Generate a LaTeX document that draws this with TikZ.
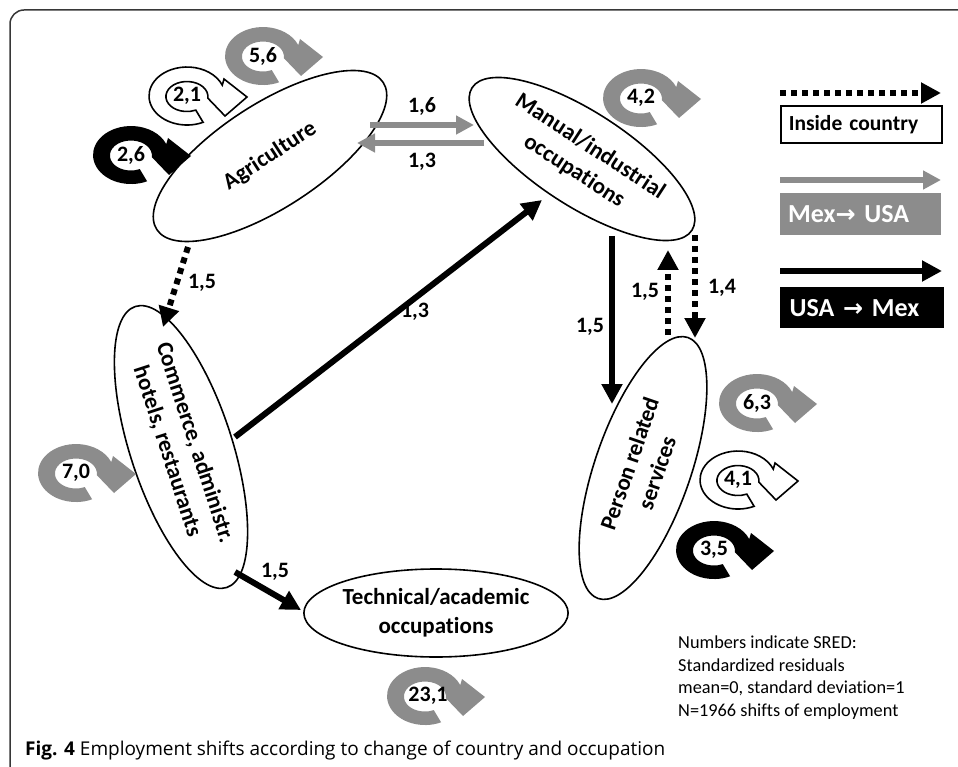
\documentclass[tikz,border=0pt]{standalone}
\usepackage{fontspec}
\setmainfont{Carlito}[Ligatures=CommonOff]
\newfontfamily\capfont{Open Sans}
\newfontfamily\symfont{DejaVu Sans}
\usetikzlibrary{shapes.geometric,arrows.meta}
\definecolor{gA}{RGB}{140,140,140}
\definecolor{frameC}{RGB}{55,55,55}
\tikzset{
  loopicon/.pic={
    \path[pic actions] (16.1,-26.3) arc[start angle=-65, end angle=-338, x radius=38, y radius=29]
      -- (37,17) -- (60,-1) -- (38,-20) -- (20.8,-2.1)
      arc[start angle=-6, end angle=295, x radius=21, y radius=15]
      -- cycle;
  }
}
\begin{document}
\begin{tikzpicture}[x=1pt,y=1pt,
  occ/.style={draw,line width=1.6pt,ellipse,inner sep=0pt,align=center,
    font=\fontsize{23}{29}\selectfont\bfseries},
  lbl/.style={font=\fontsize{22}{26}\selectfont\bfseries,inner sep=0pt},
  grayarr/.style={draw=gA,line width=6pt,-{Triangle[length=18pt,width=18pt]}},
  blackarr/.style={draw=black,line width=6pt,-{Triangle[length=20pt,width=20pt]}},
  dotarr/.style={draw=black,line width=6pt,dash pattern=on 6pt off 5pt,-{Triangle[length=20pt,width=20pt]}},
  graylp/.style={fill=gA},
  blacklp/.style={fill=black},
  whitelp/.style={fill=white,draw=black,line width=1.6pt,line join=miter},
  legbox/.style={inner sep=0pt,minimum width=160pt,minimum height=40pt,anchor=north west,
    text width=145pt,align=left,inner xsep=8pt}
]
\useasboundingbox (0,0) rectangle (958,-767);
% frame
\draw[frameC,line width=1.5pt] (10,-767) -- (10,-24) arc[start angle=180,end angle=90,radius=14] -- (958,-10);

% occupation ellipses
\node[occ,minimum width=270pt,minimum height=104pt,rotate=33] (agri) at (270,-156) {Agriculture};
\node[occ,minimum width=262pt,minimum height=94pt,rotate=-33] (manual) at (582,-159) {Manual/industrial\\occupations};
\node[occ,minimum width=266pt,minimum height=102pt,rotate=-72] (comm) at (181,-447) {Commerce, administr.\\hotels, restaurants};
\node[occ,minimum width=276pt,minimum height=96pt,rotate=71] (person) at (643,-468) {Person related\\services};
\node[occ,minimum width=260pt,minimum height=88pt] (tech) at (436,-613) {Technical/academic\\occupations};

% connector end points
\coordinate (g16a) at (370,-125);
\coordinate (g16b) at (474,-125);
\coordinate (g13a) at (484,-143);
\coordinate (g13b) at (357,-143);
\coordinate (dAa) at (188,-247);
\coordinate (dAb) at (163,-327);
\coordinate (bCa) at (235,-437);
\coordinate (bCb) at (542,-200);
\coordinate (bTa) at (235,-572);
\coordinate (bTb) at (301,-610);
\coordinate (bMa) at (612,-236);
\coordinate (bMb) at (612,-404);
\coordinate (dUa) at (668,-335);
\coordinate (dUb) at (668,-250);
\coordinate (dDa) at (695,-235);
\coordinate (dDb) at (695,-338);

\draw[grayarr] (g16a) -- (g16b);
\draw[grayarr] (g13a) -- (g13b);
\draw[dotarr] (dAa) -- (dAb);
\draw[blackarr] (bCa) -- (bCb);
\draw[blackarr] (bTa) -- (bTb);
\draw[blackarr] (bMa) -- (bMb);
\draw[dotarr] (dUa) -- (dUb);
\draw[dotarr] (dDa) -- (dDb);

% connector labels
\node[lbl] (l16) at (422,-106) {1,6};
\node[lbl] (l13g) at (422,-162) {1,3};
\node[lbl] (l15a) at (202,-283) {1,5};
\node[lbl] (l13b) at (415,-312) {1,3};
\node[lbl] (l15t) at (275,-572) {1,5};
\node[lbl] (l15m) at (590,-327) {1,5};
\node[lbl] (l15u) at (645,-292) {1,5};
\node[lbl] (l14) at (722,-288) {1,4};

% loops
\pic[graylp] at (263,-56) {loopicon};
\node[lbl] (n56) at (263,-56) {5,6};
\pic[whitelp] at (187,-96) {loopicon};
\node[lbl] (n21) at (187,-96) {2,1};
\pic[blacklp] at (131,-155) {loopicon};
\node[lbl] (n26) at (131,-155) {2,6};
\pic[graylp] at (641,-98) {loopicon};
\node[lbl] (n42) at (641,-98) {4,2};
\pic[graylp] at (757,-403) {loopicon};
\node[lbl] (n63) at (757,-403) {6,3};
\pic[whitelp] at (738,-480) {loopicon};
\node[lbl] (n41) at (738,-480) {4,1};
\pic[blacklp] at (714,-550) {loopicon};
\node[lbl] (n35) at (714,-550) {3,5};
\pic[graylp] at (76,-473) {loopicon};
\node[lbl] (n70) at (76,-473) {7,0};
\pic[graylp] at (425,-696) {loopicon};
\node[lbl] (n231) at (428,-696) {23,1};

% legend
\coordinate (ldA) at (780,-93);
\coordinate (ldB) at (941,-93);
\draw[dotarr] (ldA) -- (ldB);
\node[legbox,draw,line width=1.6pt,fill=white,minimum height=37pt,
  font=\fontsize{21.5}{25}\selectfont\bfseries] (leg1) at (780,-105) {Inside country};
\coordinate (lgA) at (780,-180);
\coordinate (lgB) at (941,-180);
\draw[grayarr] (lgA) -- (lgB);
\node[legbox,fill=gA,minimum height=42pt,text=white,
  font=\fontsize{26}{30}\selectfont\bfseries] (leg2) at (780,-193) {Mex{\symfont\bfseries\fontsize{24}{28}\selectfont→} USA};
\coordinate (lbA) at (780,-271);
\coordinate (lbB) at (942,-271);
\draw[blackarr] (lbA) -- (lbB);
\node[legbox,fill=black,minimum width=164pt,minimum height=41pt,text=white,
  font=\fontsize{26}{30}\selectfont\bfseries] (leg3) at (780,-287) {USA {\symfont\bfseries\fontsize{24}{28}\selectfont→} Mex};

% note
\node[anchor=north west,align=left,inner sep=0pt,font=\fontsize{18.3}{22.5}\selectfont] (note) at (678,-636)
  {Numbers indicate SRED:\\Standardized residuals\\mean=0, standard deviation=1\\N=1966 shifts of employment};

% caption
\node[anchor=base west,inner sep=0pt,font=\capfont\fontsize{19}{23}\selectfont] (cap) at (25,-755)
  {\textbf{Fig. 4} Employment shifts according to change of country and occupation};
\end{tikzpicture}
\end{document}
